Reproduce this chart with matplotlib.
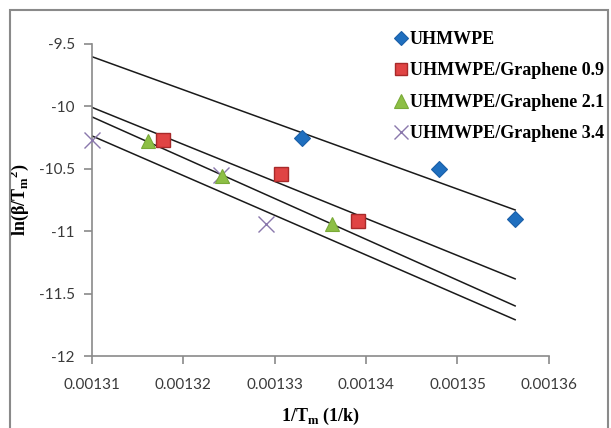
import numpy as np
import matplotlib
matplotlib.use("Agg")
import matplotlib.pyplot as plt
from matplotlib.patches import Rectangle
from matplotlib.lines import Line2D

# ---- data ----
series_names = ["UHMWPE", "UHMWPE/Graphene 0.9", "UHMWPE/Graphene 2.1", "UHMWPE/Graphene 3.4"]
x_uhmwpe = [0.0013330, 0.0013480, 0.0013563]
y_uhmwpe = [-10.25, -10.50, -10.90]
x_g09 = [0.0013178, 0.0013307, 0.0013391]
y_g09 = [-10.27, -10.54, -10.92]
x_g21 = [0.0013162, 0.0013243, 0.0013363]
y_g21 = [-10.28, -10.56, -10.94]
x_g34 = [0.0013100, 0.0013242, 0.0013291]
y_g34 = [-10.27, -10.55, -10.945]
x_ticks = [0.00131, 0.00132, 0.00133, 0.00134, 0.00135, 0.00136]
y_ticks = [-12, -11.5, -11, -10.5, -10, -9.5]
trend_x = [0.00131, 0.0013563]

fig = plt.figure(figsize=(6.11, 4.28), dpi=100)
ax = fig.add_axes([0.1498, 0.1682, 0.8985 - 0.1498, 0.8972 - 0.1682])

styles = [
    dict(marker="D", color="#1F6FBF", mec="#1A5FA8", ms=8.5, mew=0.8),
    dict(marker="s", color="#E04444", mec="#A82A2A", ms=10, mew=1.0),
    dict(marker="^", color="#8DBF45", mec="#7AAA38", ms=10.5, mew=0.8),
    dict(marker="x", color="#8A78AC", mec="#8A78AC", ms=11, mew=1.0),
]
xs = [x_uhmwpe, x_g09, x_g21, x_g34]
ys = [y_uhmwpe, y_g09, y_g21, y_g34]
zorders = [4, 4, 5, 3]

tx = np.array(trend_x)
for x, y in zip(xs, ys):
    k, b = np.polyfit(x, y, 1)
    ax.plot(tx, k * tx + b, color="#1a1a1a", lw=1.1, zorder=2)

for x, y, st, z in zip(xs, ys, styles, zorders):
    ax.plot(x, y, ls="none", zorder=z, clip_on=False, **st)

ax.set_xlim(0.00131, 0.00136)
ax.set_ylim(-12, -9.5)
ax.set_xticks(x_ticks)
ax.set_xticklabels([f"{v:.5f}" for v in x_ticks])
ax.set_yticks(y_ticks)
ax.set_yticklabels([f"{v:g}" for v in y_ticks])

for s in ["top", "right"]:
    ax.spines[s].set_visible(False)
for s in ["left", "bottom"]:
    ax.spines[s].set_color("#8a8a8a")
    ax.spines[s].set_linewidth(1.2)
ax.tick_params(axis="both", colors="#8a8a8a", length=6, width=1.2,
               labelcolor="#3a3a3a", labelsize=11, pad=6)
ax.tick_params(axis="x", pad=10)
for lab in ax.get_xticklabels() + ax.get_yticklabels():
    lab.set_family("Lato")

ax.set_xlabel(r"1/T$_\mathregular{m}$ (1/k)", family="Liberation Serif",
              weight="bold", fontsize=13)
ax.xaxis.set_label_coords(0.5, -0.16)
ax.set_ylabel(r"ln($\mathregular{\beta}$/T$_\mathregular{m}$$^\mathregular{2}$)",
              family="Liberation Serif", weight="bold", fontsize=13)
ax.yaxis.set_label_coords(-(91.5 - 31) / 457.5, 0.5)

handles = [Line2D([], [], ls="none", **st) for st in styles]
handles[0].set_markersize(7)
handles[1].set_markersize(9)
handles[2].set_markersize(9.5)
handles[3].set_markersize(10)
leg = fig.legend(handles, series_names, loc="upper left",
                 bbox_to_anchor=(396 / 611, 1 - 31 / 428),
                 frameon=False, handlelength=0.6, handletextpad=0.15,
                 labelspacing=0.8, borderaxespad=0, borderpad=0,
                 prop=dict(family="Liberation Serif", weight="bold", size=13))

fig.patches.append(Rectangle((10 / 611, -0.01), 598 / 611, 1 - 10 / 428 + 0.01,
                             transform=fig.transFigure, fill=False,
                             edgecolor="#8a8a8a", lw=1.5))

fig.savefig("out.png", dpi=100)
